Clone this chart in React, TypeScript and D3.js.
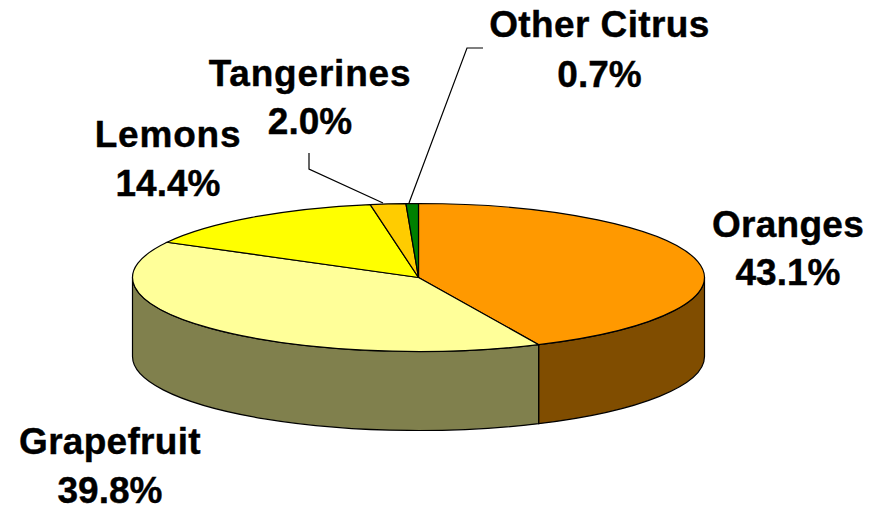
import React from "react";
import * as d3 from "d3";

const categories = ["Oranges", "Grapefruit", "Lemons", "Tangerines", "Other Citrus"];
const values = [43.1, 39.8, 14.4, 2.0, 0.7];
const topColors = ["#FF9900", "#FFFF99", "#FFFF00", "#FFCC00", "#008000"];
const sideColors = ["#804D00", "#80804D", "#808000", "#806600", "#004000"];
const labelCenters: [number, number, number][] = [
  [788, 237, 285],
  [110, 454, 503],
  [168, 147, 196],
  [310, 86, 134],
  [599.5, 37, 87],
];
const letterSpacings = [0.3, 0.3, 0.8, 0.8, 0.4];

const W = 885, H = 507;
const cx = 418.5, cy = 277.5, rx = 286, ry = 74, depth = 79;

const x = d3.scaleLinear().domain([-1, 1]).range([cx - rx, cx + rx]);
const y = d3.scaleLinear().domain([-1, 1]).range([cy - ry, cy + ry]);
const px = (a: number) => x(Math.sin(a));
const py = (a: number) => y(-Math.cos(a));

const pie = d3.pie<number>().sort(null).value((d) => d);
const arcs = pie(values);

function topPath(a0: number, a1: number) {
  const large = a1 - a0 > Math.PI ? 1 : 0;
  return `M${cx},${cy}L${px(a0)},${py(a0)}A${rx},${ry} 0 ${large} 1 ${px(a1)},${py(a1)}Z`;
}
function sidePath(a0: number, a1: number) {
  const s = Math.max(a0, Math.PI / 2);
  const e = Math.min(a1, (3 * Math.PI) / 2);
  if (e <= s) return null;
  return `M${px(s)},${py(s)}A${rx},${ry} 0 0 1 ${px(e)},${py(e)}L${px(e)},${py(e) + depth}A${rx},${ry} 0 0 0 ${px(s)},${py(s) + depth}Z`;
}

const font = "'Liberation Sans', Arial, sans-serif";

export default function App() {
  return (
    <svg width={W} height={H} style={{ position: "absolute", left: 0, top: 0, background: "#fff" }}>
      {arcs.map((d, i) => {
        const p = sidePath(d.startAngle, d.endAngle);
        return p ? <path key={i} d={p} fill={sideColors[i]} stroke="#000" strokeWidth={1.2} /> : null;
      })}
      {arcs.map((d, i) => (
        <path key={i} d={topPath(d.startAngle, d.endAngle)} fill={topColors[i]} stroke="#000" strokeWidth={1.2} />
      ))}
      <polyline points="383,203 309,169 309,153" fill="none" stroke="#000" strokeWidth={1.2} />
      <polyline points="409,203 467,48 483,48" fill="none" stroke="#000" strokeWidth={1.2} />
      {categories.map((c, i) => (
        <g key={c} fontFamily={font} fontWeight="bold" fontSize={37} fill="#000" textAnchor="middle" stroke="#000" strokeWidth={0.4}>
          <text x={labelCenters[i][0]} y={labelCenters[i][1]} letterSpacing={letterSpacings[i]}>{c}</text>
          <text x={labelCenters[i][0]} y={labelCenters[i][2]}>{values[i].toFixed(1)}%</text>
        </g>
      ))}
    </svg>
  );
}
